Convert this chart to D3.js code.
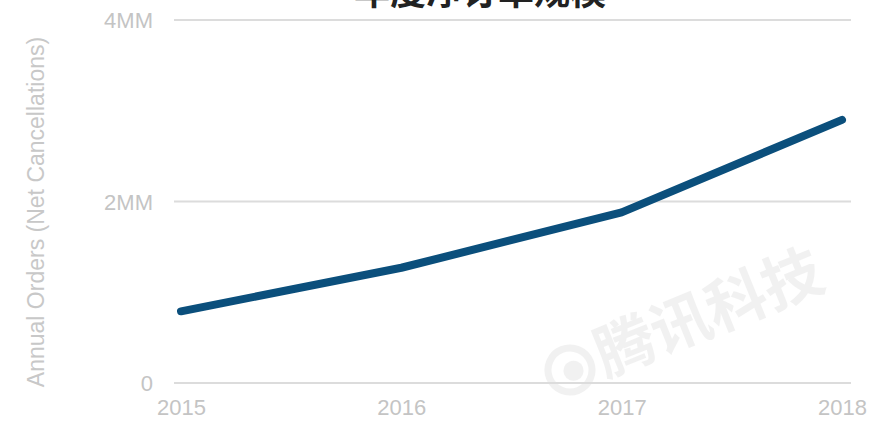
<!DOCTYPE html>
<html>
<head>
<meta charset="utf-8">
<script src="https://cdn.jsdelivr.net/npm/d3@7"></script>
<style>
  html, body { margin: 0; padding: 0; background: #fff; }
  svg { display: block; }
</style>
</head>
<body>
<svg id="chart" width="870" height="423"></svg>
<script>
const title = "年度净订单规模";
const yAxisTitle = "Annual Orders (Net Cancellations)";
const years = ["2015", "2016", "2017", "2018"];
const orders = [0.79, 1.27, 1.88, 2.90]; // millions
const yTicks = [0, 2, 4];
const yTickLabels = ["0", "2MM", "4MM"];
const watermark = "腾讯科技";

const svg = d3.select("#chart");

const x = d3.scalePoint().domain(years).range([181, 842]);
const y = d3.scaleLinear().domain([0, 4]).range([383, 20]);

// watermark
const wm = svg.append("g").attr("transform", "translate(570,370) rotate(-22)").attr("opacity", 0.05);
wm.append("circle").attr("cx", 0).attr("cy", 0).attr("r", 22).attr("fill", "none").attr("stroke", "#000").attr("stroke-width", 7);
wm.append("circle").attr("cx", 3).attr("cy", 2).attr("r", 10).attr("fill", "#000");
wm.append("text").attr("x", 30).attr("y", 20).attr("font-family", "Noto Sans CJK SC").attr("font-size", 60).attr("font-weight", "bold").attr("fill", "#000").text(watermark);

// gridlines
svg.append("g").selectAll("line").data(yTicks).join("line")
  .attr("x1", 174).attr("x2", 851)
  .attr("y1", d => y(d)).attr("y2", d => y(d))
  .attr("stroke", "#dcdcdc").attr("stroke-width", 2);

// y axis
const yAxis = d3.axisLeft(y).tickValues(yTicks).tickFormat((d, i) => yTickLabels[i]).tickSize(0).tickPadding(0);
const gy = svg.append("g").attr("transform", "translate(153,0)").call(yAxis);
gy.select(".domain").remove();
gy.selectAll("text").attr("font-family", "Liberation Sans, Arial, sans-serif").attr("font-size", 22)
  .attr("fill", "#c4c4c4").attr("dy", "0.36em");

// x axis
const xAxis = d3.axisBottom(x).tickSize(0).tickPadding(0);
const gx = svg.append("g").attr("transform", "translate(0,399)").call(xAxis);
gx.select(".domain").remove();
gx.selectAll("text").attr("font-family", "Liberation Sans, Arial, sans-serif").attr("font-size", 22)
  .attr("fill", "#c4c4c4").attr("dy", "0.71em");

// y axis title
svg.append("text")
  .attr("transform", "translate(44,212) rotate(-90)")
  .attr("text-anchor", "middle")
  .attr("font-family", "Liberation Sans, Arial, sans-serif")
  .attr("font-size", 23)
  .attr("fill", "#c8c8c8")
  .text(yAxisTitle);

// line
const line = d3.line().x((d, i) => x(years[i])).y(d => y(d));
svg.append("path").datum(orders)
  .attr("d", line)
  .attr("fill", "none")
  .attr("stroke", "#0b4f7c")
  .attr("stroke-width", 8)
  .attr("stroke-linecap", "round")
  .attr("stroke-linejoin", "round");

// title (cut off at top, as in the reference)
svg.append("text")
  .attr("x", 480).attr("y", 5)
  .attr("text-anchor", "middle")
  .attr("font-family", "Noto Sans CJK SC")
  .attr("font-weight", "bold")
  .attr("font-size", 36)
  .attr("fill", "#222")
  .text(title);
</script>
</body>
</html>
